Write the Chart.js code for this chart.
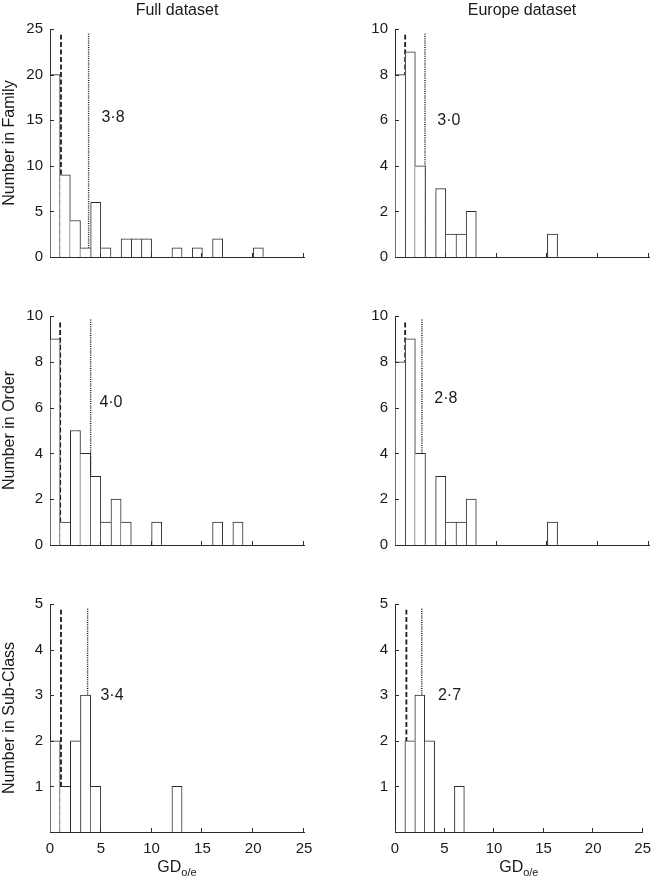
<!DOCTYPE html>
<html>
<head>
<meta charset="utf-8">
<script src="https://cdn.jsdelivr.net/npm/chart.js@4/dist/chart.umd.min.js"></script>
<style>
  body { margin: 0; background: #fff; }
  .panel { position: absolute; }
</style>
</head>
<body>
<div class="panel" style="left:0;top:0"><canvas id="c0" width="330" height="290"></canvas></div>
<div class="panel" style="left:330px;top:0"><canvas id="c1" width="329" height="290"></canvas></div>
<div class="panel" style="left:0;top:290px"><canvas id="c2" width="330" height="290"></canvas></div>
<div class="panel" style="left:330px;top:290px"><canvas id="c3" width="329" height="290"></canvas></div>
<div class="panel" style="left:0;top:580px"><canvas id="c4" width="330" height="305"></canvas></div>
<div class="panel" style="left:330px;top:580px"><canvas id="c5" width="329" height="305"></canvas></div>
<script>
// GD o/e histogram bins are 1 unit wide, 0..25
var binStarts = [0,1,2,3,4,5,6,7,8,9,10,11,12,13,14,15,16,17,18,19,20,21,22,23,24];

var familyFull   = [20,9,4,1,6,1,0,2,2,2,0,0,1,0,1,0,2,0,0,0,1,0,0,0,0];
var familyEurope = [8,9,4,0,3,1,1,2,0,0,0,0,0,0,0,1,0,0,0,0,0,0,0,0,0];
var orderFull    = [9,1,5,4,3,1,2,1,0,0,1,0,0,0,0,0,1,0,1,0,0,0,0,0,0];
var orderEurope  = [8,9,4,0,3,1,1,2,0,0,0,0,0,0,0,1,0,0,0,0,0,0,0,0,0];
var subFull      = [2,1,2,3,1,0,0,0,0,0,0,0,1,0,0,0,0,0,0,0,0,0,0,0,0];
var subEurope    = [0,2,3,2,0,0,1,0,0,0,0,0,0,0,0,0,0,0,0,0,0,0,0,0,0];

var meanText  = ['3·8', '3·0', '4·0', '2·8', '3·4', '2·7'];
var meanLine  = [3.8, 2.95, 4.0, 2.65, 3.7, 2.7];
var unityLine = [1.08, 1.0, 1.0, 1.0, 1.08, 1.15];
var yMax  = [25, 10, 10, 10, 5, 5];
var yStep = [5, 2, 2, 2, 1, 1];
var xTicks = [0, 5, 10, 15, 20, 25];
var colTitles = ['Full dataset', 'Europe dataset'];
var rowTitles = ['Number in Family', 'Number in Order', 'Number in Sub-Class'];

var series = [familyFull, familyEurope, orderFull, orderEurope, subFull, subEurope];

var ink = '#2b2b2b';
var font = 'Liberation Sans, Arial, Helvetica, sans-serif';

// where the mean label sits, in data units
var labelAt = [[6.2, 15.3], [5.3, 6.0], [6.0, 6.2], [5.0, 6.4], [6.1, 3.0], [5.5, 3.0]];

var extras = {
    id: 'extras',
    afterDraw: function (chart) {
        var o = chart.options.plugins.extras,
            ctx = chart.ctx,
            xs = chart.scales.x,
            ys = chart.scales.y,
            area = chart.chartArea;

        ctx.save();
        ctx.strokeStyle = ink;
        ctx.lineWidth = 1;
        ctx.beginPath();
        // inward ticks
        xTicks.forEach(function (v) {
            if (v === 0) return;
            var px = Math.round(xs.getPixelForValue(v)) - 0.5;
            ctx.moveTo(px, area.bottom);
            ctx.lineTo(px, area.bottom - 4);
        });
        ys.ticks.forEach(function (t) {
            if (t.value === 0) return;
            var py = Math.round(ys.getPixelForValue(t.value)) + 0.5;
            ctx.moveTo(area.left, py);
            ctx.lineTo(area.left + 4, py);
        });
        ctx.stroke();

        ctx.fillStyle = '#1a1a1a';
        ctx.font = '16px ' + font;
        ctx.textAlign = 'center';
        ctx.textBaseline = 'middle';
        ctx.fillText(o.label, xs.getPixelForValue(o.labelX), ys.getPixelForValue(o.labelY));

        if (o.header) {
            ctx.fillText(o.header, (area.left + area.right) / 2, area.top - 18);
        }
        if (o.bottom) {
            var cx = xs.getPixelForValue(12.5), cy = area.bottom + 36;
            ctx.textAlign = 'left';
            ctx.font = '16px ' + font;
            var w1 = ctx.measureText('GD').width;
            ctx.font = '11px ' + font;
            var w2 = ctx.measureText('o/e').width;
            var x0 = cx - (w1 + w2) / 2;
            ctx.font = '16px ' + font;
            ctx.fillText('GD', x0, cy);
            ctx.font = '11px ' + font;
            ctx.fillText('o/e', x0 + w1, cy + 5);
        }
        ctx.restore();
    }
};

function makePanel(k) {
    var col = k % 2,
        row = Math.floor(k / 2),
        vals = series[k],
        top = yMax[k],
        padTop = [29, 26, 24][row],
        xHeight = [33, 35, 53][row],
        yWidth = col === 0 ? 50 : 65,
        padRight = col === 0 ? 26 : 10;

    var bars = vals.map(function (v, i) {
        return { x: binStarts[i] + 0.5, y: v };
    });

    new Chart(document.getElementById('c' + k), {
        type: 'bar',
        data: {
            datasets: [
                {
                    type: 'bar',
                    data: bars,
                    backgroundColor: '#fff',
                    borderColor: ink,
                    borderSkipped: false,
                    barPercentage: 1,
                    categoryPercentage: 1,
                    order: 0,
                    borderWidth: function (c) {
                        var i = c.dataIndex,
                            v = vals[i] || 0,
                            prev = vals[i - 1] || 0,
                            next = vals[i + 1] || 0;
                        if (v === 0) return 0;
                        return {
                            top: 1,
                            bottom: 0,
                            left: prev <= v ? 1 : 0,
                            right: next < v ? 1 : 0
                        };
                    }
                },
                {
                    type: 'line',
                    data: [{ x: unityLine[k], y: 0 }, { x: unityLine[k], y: top * 0.975 }],
                    borderColor: '#1a1a1a',
                    borderWidth: 1.8,
                    borderDash: [5, 2.5],
                    pointRadius: 0,
                    order: 1
                },
                {
                    type: 'line',
                    data: [{ x: meanLine[k], y: 0 }, { x: meanLine[k], y: top * 0.985 }],
                    borderColor: '#111',
                    borderWidth: 1.4,
                    borderDash: [1, 1.2],
                    pointRadius: 0,
                    order: 1
                }
            ]
        },
        options: {
            responsive: false,
            animation: false,
            events: [],
            layout: { padding: { top: padTop, right: padRight, left: 0, bottom: 0 } },
            plugins: {
                legend: { display: false },
                tooltip: { enabled: false },
                extras: {
                    label: meanText[k],
                    labelX: labelAt[k][0],
                    labelY: labelAt[k][1],
                    header: row === 0 ? colTitles[col] : null,
                    bottom: row === 2
                }
            },
            scales: {
                x: {
                    type: 'linear',
                    offset: false,
                    min: 0,
                    max: 25,
                    afterBuildTicks: function (s) {
                        s.ticks = xTicks.map(function (v) { return { value: v }; });
                    },
                    afterFit: function (s) { s.height = xHeight; },
                    grid: { display: false, drawTicks: false },
                    border: { color: ink, width: 1 },
                    ticks: {
                        display: row === 2,
                        padding: 8,
                        maxRotation: 0,
                        autoSkip: false,
                        color: '#1a1a1a',
                        font: { family: font, size: 15 }
                    }
                },
                y: {
                    min: 0,
                    max: top,
                    afterFit: function (s) { s.width = yWidth; },
                    grid: { display: false, drawTicks: false },
                    border: { color: ink, width: 1 },
                    ticks: {
                        stepSize: yStep[k],
                        padding: 7,
                        color: '#1a1a1a',
                        font: { family: font, size: 15 },
                        callback: function (v) { return (row === 2 && v === 0) ? '' : v; }
                    },
                    title: {
                        display: col === 0,
                        text: rowTitles[row],
                        color: '#1a1a1a',
                        font: { family: font, size: 16 },
                        padding: { top: 0, bottom: 0 }
                    }
                }
            }
        },
        plugins: [extras]
    });
}

for (var k = 0; k < 6; k++) {
    makePanel(k);
}
</script>
</body>
</html>
